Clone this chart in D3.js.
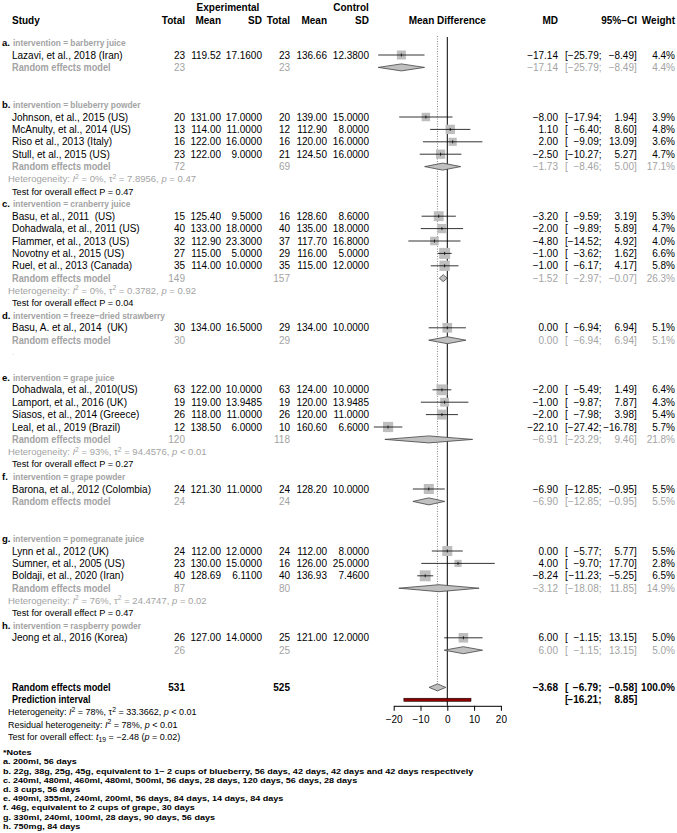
<!DOCTYPE html>
<html>
<head>
<meta charset="utf-8">
<script src="https://cdn.jsdelivr.net/npm/d3@7"></script>
<style>
  body { margin: 0; background: #fff; }
  text { font-family: "Liberation Sans", Arial, Helvetica, sans-serif; white-space: pre; }
</style>
</head>
<body>
<div id="chart"></div>
<script>
  // ---- data ----
  var groupLetters = ["a.", "b.", "c.", "d.", "e.", "f.", "g.", "h."];
  var groupLabels = ["barberry juice", "blueberry powder", "cranberry juice", "freeze\u2212dried strawberry",
                     "grape juice", "grape powder", "pomegranate juice", "raspberry powder"];

  var studyNames = ["Lazavi, et al., 2018 (Iran)",
    "Johnson, et al., 2015 (US)", "McAnulty, et al., 2014 (US)", "Riso et al., 2013 (Italy)", "Stull, et al., 2015 (US)",
    "Basu, et al., 2011  (US)", "Dohadwala, et al., 2011 (US)", "Flammer, et al., 2013 (US)", "Novotny et al., 2015 (US)", "Ruel, et al., 2013 (Canada)",
    "Basu, A. et al., 2014  (UK)",
    "Dohadwala, et al., 2010(US)", "Lamport, et al., 2016 (UK)", "Siasos, et al., 2014 (Greece)", "Leal, et al., 2019 (Brazil)",
    "Barona, et al., 2012 (Colombia)",
    "Lynn et al., 2012 (UK)", "Sumner, et al., 2005 (US)", "Boldaji, et al., 2020 (Iran)",
    "Jeong et al., 2016 (Korea)"];
  var studyGroup = [0, 1, 1, 1, 1, 2, 2, 2, 2, 2, 3, 4, 4, 4, 4, 5, 6, 6, 6, 7];
  var totalE = [23, 20, 13, 16, 23, 15, 40, 32, 27, 35, 30, 63, 19, 26, 12, 24, 24, 23, 40, 26];
  var meanE = [119.52, 131, 114, 122, 122, 125.4, 133, 112.9, 115, 114, 134, 122, 119, 118, 138.5, 121.3, 112, 130, 128.69, 127];
  var sdE = [17.16, 17, 11, 16, 9, 9.5, 18, 23.3, 5, 10, 16.5, 10, 13.9485, 11, 6, 11, 12, 15, 6.11, 14];
  var totalC = [23, 20, 12, 16, 21, 16, 40, 37, 29, 35, 29, 63, 19, 26, 10, 24, 24, 16, 40, 25];
  var meanC = [136.66, 139, 112.9, 120, 124.5, 128.6, 135, 117.7, 116, 115, 134, 124, 120, 120, 160.6, 128.2, 112, 126, 136.93, 121];
  var sdC = [12.38, 15, 8, 16, 16, 8.6, 18, 16.8, 5, 12, 10, 10, 13.9485, 11, 6.6, 10, 8, 25, 7.46, 12];
  var md = [-17.14, -8, 1.1, 2, -2.5, -3.2, -2, -4.8, -1, -1, 0, -2, -1, -2, -22.1, -6.9, 0, 4, -8.24, 6];
  var ciLow = [-25.79, -17.94, -6.4, -9.09, -10.27, -9.59, -9.89, -14.52, -3.62, -6.17, -6.94, -5.49, -9.87, -7.98, -27.42, -12.85, -5.77, -9.7, -11.23, -1.15];
  var ciHigh = [-8.49, 1.94, 8.6, 13.09, 5.27, 3.19, 5.89, 4.92, 1.62, 4.17, 6.94, 1.49, 7.87, 3.98, -16.78, -0.95, 5.77, 17.7, -5.25, 13.15];
  var weight = [4.4, 3.9, 4.8, 3.6, 4.7, 5.3, 4.7, 4.0, 6.6, 5.8, 5.1, 6.4, 4.3, 5.4, 5.7, 5.5, 5.5, 2.8, 6.5, 5.0];

  var groupTotalE = [23, 72, 149, 30, 120, 24, 87, 26];
  var groupTotalC = [23, 69, 157, 29, 118, 24, 80, 25];
  var groupMD = [-17.14, -1.73, -1.52, 0, -6.91, -6.9, -3.12, 6];
  var groupLow = [-25.79, -8.46, -2.97, -6.94, -23.29, -12.85, -18.08, -1.15];
  var groupHigh = [-8.49, 5, -0.07, 6.94, 9.46, -0.95, 11.85, 13.15];
  var groupWeight = [4.4, 17.1, 26.3, 5.1, 21.8, 5.5, 14.9, 5.0];
  var groupShowLabel = [true, true, true, true, true, true, true, false];
  var groupI2 = [null, "0%", "0%", null, "93%", null, "76%", null];
  var groupTau2 = [null, "7.8956", "0.3782", null, "94.4576", null, "24.4747", null];
  var groupP = [null, "= 0.47", "= 0.92", null, "< 0.01", null, "= 0.02", null];
  var groupTestP = [null, "0.47", "0.04", null, "0.27", null, "0.47", null];

  var overall = {totalE: 531, totalC: 525, md: -3.68, low: -6.79, high: -0.58, weight: 100};
  var prediction = [-16.21, 8.85];
  var axisTicks = [-20, -10, 0, 10, 20];

  var notes = ["*Notes",
    "a. 200ml, 56 days",
    "b. 22g, 38g, 25g, 45g, equivalent to 1~ 2 cups of blueberry, 56 days, 42 days, 42 days and 42 days respectively",
    "c. 240ml, 480ml, 460ml, 480ml, 500ml, 56 days, 28 days, 120 days, 56 days, 28 days",
    "d. 3 cups, 56 days",
    "e. 490ml, 355ml, 240ml, 200ml, 56 days, 84 days, 14 days, 84 days",
    "f. 46g, equivalent to 2 cups of grape, 30 days",
    "g. 330ml, 240ml, 100ml, 28 days, 90 days, 56 days",
    "h. 750mg, 84 days"];

  // ---- layout ----
  var width = 677, height = 833;
  var grey = "#a3a3a3";
  var svg = d3.select("#chart").append("svg")
      .attr("width", width)
      .attr("height", height);

  var x = d3.scaleLinear().domain([-20, 20]).range([393.7, 500.9]);
  var y = d3.scaleLinear().domain([1, 2]).range([42.6, 55]);
  var boxSize = d3.scaleSqrt().domain([0, 6.6]).range([0, 11]);

  var fmt = function(v, n) { return (v < 0 ? "\u2212" : "") + Math.abs(v).toFixed(n); };

  // build the row list
  var rows = [];
  var r = 1;
  groupLetters.forEach(function(letter, gi) {
    rows.push({type: "group", row: r++, gi: gi});
    studyNames.forEach(function(n, si) {
      if (studyGroup[si] === gi) rows.push({type: "study", row: r++, si: si});
    });
    rows.push({type: "pooled", row: r++, gi: gi});
    if (groupI2[gi] !== null) {
      rows.push({type: "het", row: r++, gi: gi});
      rows.push({type: "test", row: r++, gi: gi});
    } else {
      if (gi === 3) rows.push({type: "dot", row: r});
      r += 2;
    }
  });
  var overallRow = r;

  var colX = {totalE: 185, meanE: 221, sdE: 262, totalC: 290, meanC: 327, sdC: 369,
              md: 558, bracket: 565, low: 601.5, high: 634, weight: 675};

  function txt(g, xx, yy, s, anchor, opts) {
    opts = opts || {};
    var t = g.append("text")
      .attr("x", xx).attr("y", yy).attr("dy", "0.35em")
      .attr("text-anchor", anchor || "start")
      .attr("font-size", opts.size || "10px")
      .attr("font-weight", opts.bold ? "bold" : "normal")
      .attr("fill", opts.color || "#000")
      .text(s);
    if (opts.squeeze) {
      // narrow bold lettering as in the original plot
      var w = t.node().getComputedTextLength();
      t.attr("textLength", w * opts.squeeze).attr("lengthAdjust", "spacingAndGlyphs");
    }
    return t;
  }

  function rich(g, xx, yy, parts, opts) {
    opts = opts || {};
    var t = g.append("text").attr("x", xx).attr("y", yy).attr("dy", "0.35em")
      .attr("font-size", opts.size || "9.5px").attr("fill", opts.color || "#000");
    var shift = 0;
    parts.forEach(function(p) {
      var ts = t.append("tspan").text(p.t);
      var target = p.sup ? -3.5 : (p.sub ? 2 : 0);
      if (target !== shift) { ts.attr("dy", target - shift); shift = target; }
      if (p.sup || p.sub) ts.attr("font-size", "6.8px");
      if (p.i) ts.attr("font-style", "italic");
    });
    return t;
  }

  function ciText(g, yy, lo, hi, opts) {
    txt(g, colX.bracket, yy, "[", "start", opts);
    txt(g, colX.low, yy, fmt(lo, 2) + ";", "end", opts);
    txt(g, colX.high, yy, fmt(hi, 2), "end", opts);
    txt(g, colX.high, yy, "]", "start", opts);
  }

  function diamond(g, yy, lo, mid, hi, h) {
    g.append("path")
      .attr("d", "M" + x(lo) + "," + yy + "L" + x(mid) + "," + (yy - h) +
                 "L" + x(hi) + "," + yy + "L" + x(mid) + "," + (yy + h) + "Z")
      .attr("fill", "#c0c0c0").attr("stroke", "#444").attr("stroke-width", 0.8);
  }

  // headers
  var head = svg.append("g");
  txt(head, 228, 7, "Experimental", "middle", {bold: true});
  txt(head, 351, 7, "Control", "middle", {bold: true});
  txt(head, 12, 20, "Study", "start", {bold: true});
  txt(head, colX.totalE, 20, "Total", "end", {bold: true});
  txt(head, colX.meanE, 20, "Mean", "end", {bold: true});
  txt(head, colX.sdE, 20, "SD", "end", {bold: true});
  txt(head, colX.totalC, 20, "Total", "end", {bold: true});
  txt(head, colX.meanC, 20, "Mean", "end", {bold: true});
  txt(head, colX.sdC, 20, "SD", "end", {bold: true});
  txt(head, x(0), 20, "Mean Difference", "middle", {bold: true});
  txt(head, colX.md, 20, "MD", "end", {bold: true});
  txt(head, 637, 20, "95%\u2212CI", "end", {bold: true});
  txt(head, colX.weight, 20, "Weight", "end", {bold: true});

  // overall rows positions
  var yo = y(overallRow), yp = y(overallRow + 1);
  var axisY = yp + 6;

  // reference lines
  var lines = svg.append("g");
  lines.append("line")
    .attr("x1", x(overall.md)).attr("x2", x(overall.md))
    .attr("y1", 36).attr("y2", yo)
    .attr("stroke", "#555").attr("stroke-width", 0.7).attr("stroke-dasharray", "1,1.5");
  lines.append("line")
    .attr("x1", x(0)).attr("x2", x(0))
    .attr("y1", 37).attr("y2", axisY)
    .attr("stroke", "#000").attr("stroke-width", 1);

  var body = svg.append("g");
  rows.forEach(function(d) {
    var yy = y(d.row);
    if (d.type === "group") {
      txt(body, 2, yy, groupLetters[d.gi], "start", {bold: true, size: "9.5px"});
      txt(body, 13, yy, "intervention = " + groupLabels[d.gi], "start", {bold: true, color: grey, size: "9.5px", squeeze: 0.88});
    } else if (d.type === "study") {
      var i = d.si;
      txt(body, 12, yy, studyNames[i]);
      txt(body, colX.totalE, yy, totalE[i], "end");
      txt(body, colX.meanE, yy, meanE[i].toFixed(2), "end");
      txt(body, colX.sdE, yy, sdE[i].toFixed(4), "end");
      txt(body, colX.totalC, yy, totalC[i], "end");
      txt(body, colX.meanC, yy, meanC[i].toFixed(2), "end");
      txt(body, colX.sdC, yy, sdC[i].toFixed(4), "end");
      txt(body, colX.md, yy, fmt(md[i], 2), "end");
      ciText(body, yy, ciLow[i], ciHigh[i]);
      txt(body, colX.weight, yy, weight[i].toFixed(1) + "%", "end");
      var s = boxSize(weight[i]);
      body.append("rect")
        .attr("x", x(md[i]) - s / 2).attr("y", yy - s / 2)
        .attr("width", s).attr("height", s)
        .attr("fill", "#bebebe");
      body.append("line")
        .attr("x1", x(ciLow[i])).attr("x2", x(ciHigh[i]))
        .attr("y1", yy).attr("y2", yy)
        .attr("stroke", "#000").attr("stroke-width", 0.8);
      body.append("line")
        .attr("x1", x(md[i])).attr("x2", x(md[i]))
        .attr("y1", yy - 1.5).attr("y2", yy + 1.5)
        .attr("stroke", "#000").attr("stroke-width", 0.8);
    } else if (d.type === "pooled") {
      var gi = d.gi, o = {color: grey};
      if (groupShowLabel[gi]) txt(body, 12, yy, "Random effects model", "start", {bold: true, color: grey, squeeze: 0.92});
      txt(body, colX.totalE, yy, groupTotalE[gi], "end", o);
      txt(body, colX.totalC, yy, groupTotalC[gi], "end", o);
      txt(body, colX.md, yy, fmt(groupMD[gi], 2), "end", o);
      ciText(body, yy, groupLow[gi], groupHigh[gi], o);
      txt(body, colX.weight, yy, groupWeight[gi].toFixed(1) + "%", "end", o);
      diamond(body, yy, groupLow[gi], groupMD[gi], groupHigh[gi], 3.5);
    } else if (d.type === "het") {
      rich(body, 8, yy, [
        {t: "Heterogeneity: "}, {t: "I", i: true}, {t: "2", sup: true},
        {t: " = " + groupI2[d.gi] + ", \u03c4"}, {t: "2", sup: true},
        {t: " = " + groupTau2[d.gi] + ", "}, {t: "p", i: true}, {t: " " + groupP[d.gi]}
      ], {color: grey});
    } else if (d.type === "test") {
      txt(body, 12, yy, "Test for overall effect P = " + groupTestP[d.gi], "start", {size: "9.2px"});
    } else if (d.type === "dot") {
      txt(body, 12, yy, ".", "start", {color: "#ccc", size: "8px"});
    }
  });

  // overall rows
  var b = {bold: true};
  txt(body, 12, yo, "Random effects model", "start", {bold: true, squeeze: 0.92});
  txt(body, colX.totalE, yo, overall.totalE, "end", b);
  txt(body, colX.totalC, yo, overall.totalC, "end", b);
  txt(body, colX.md, yo, fmt(overall.md, 2), "end", b);
  ciText(body, yo, overall.low, overall.high, b);
  txt(body, colX.weight, yo, overall.weight.toFixed(1) + "%", "end", b);
  diamond(body, yo, overall.low, overall.md, overall.high, 3.5);

  txt(body, 12, yp, "Prediction interval", "start", {bold: true, squeeze: 0.9});
  ciText(body, yp, prediction[0], prediction[1], b);
  body.append("rect")
    .attr("x", x(prediction[0])).attr("y", yp - 1.6)
    .attr("width", x(prediction[1]) - x(prediction[0])).attr("height", 3.2)
    .attr("fill", "#8b0000").attr("stroke", "#000").attr("stroke-width", 0.5);

  rich(body, 8, y(overallRow + 2), [
    {t: "Heterogeneity: "}, {t: "I", i: true}, {t: "2", sup: true},
    {t: " = 78%, \u03c4"}, {t: "2", sup: true}, {t: " = 33.3662, "}, {t: "p", i: true}, {t: " < 0.01"}], {size: "9px"});
  rich(body, 8, y(overallRow + 3), [
    {t: "Residual heterogeneity: "}, {t: "I", i: true}, {t: "2", sup: true},
    {t: " = 78%, "}, {t: "p", i: true}, {t: " < 0.01"}], {size: "9px"});
  rich(body, 8, y(overallRow + 4), [
    {t: "Test for overall effect: "}, {t: "t", i: true}, {t: "19", sub: true},
    {t: " = \u22122.48 ("}, {t: "p", i: true}, {t: " = 0.02)"}], {size: "9px"});

  // x axis
  var axis = svg.append("g")
    .attr("transform", "translate(0," + axisY + ")")
    .call(d3.axisBottom(x).tickValues(axisTicks).tickSize(5).tickSizeOuter(0)
      .tickFormat(function(v) { return v < 0 ? "\u2212" + Math.abs(v) : v; }));
  axis.select(".domain").attr("stroke", "#000");
  axis.selectAll(".tick line").attr("stroke", "#000");
  axis.selectAll(".tick text")
    .attr("font-family", "Liberation Sans, Arial, sans-serif")
    .attr("font-size", "10px").attr("fill", "#000").attr("dy", "0.95em");

  // notes: small bold lines, widened so the long line spans like the original
  var ng = svg.append("g");
  var noteTop = y(overallRow + 4) + 15.5;
  var noteEls = notes.map(function(n, i) {
    return txt(ng, 0, noteTop + i * 9.2, n, "start", {bold: true, size: "7.9px"});
  });
  var stretch = 470 / noteEls[2].node().getComputedTextLength();
  ng.attr("transform", "translate(3,0) scale(" + stretch + ",1)");
</script>
</body>
</html>
